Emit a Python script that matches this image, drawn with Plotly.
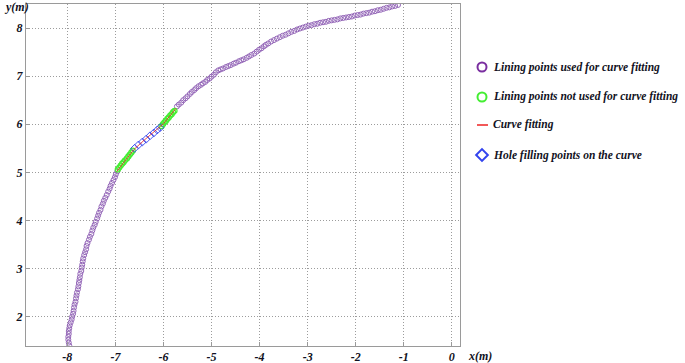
import plotly.graph_objects as go

# Lining points used for curve fitting (lower part)
used_low_x = [-7.96,-7.97,-7.98,-7.98,-7.97,-7.97,-7.96,-7.95,-7.93,-7.91,
              -7.90,-7.88,-7.87,-7.86,-7.85,-7.83,-7.82,-7.81,-7.80,-7.78,
              -7.77,-7.76,-7.75,-7.74,-7.73,-7.71,-7.70,-7.69,-7.68,-7.67,
              -7.65,-7.63,-7.61,-7.60,-7.58,-7.55,-7.53,-7.50,-7.48,-7.46,
              -7.43,-7.41,-7.38,-7.36,-7.34,-7.31,-7.29,-7.26,-7.24,-7.21,
              -7.18,-7.15,-7.12,-7.10,-7.07,-7.04,-7.01,-6.99,-6.96]
used_low_y = [1.40,1.46,1.52,1.58,1.64,1.70,1.76,1.82,1.88,1.94,
              2.00,2.06,2.12,2.19,2.25,2.31,2.38,2.44,2.50,2.57,
              2.63,2.70,2.76,2.82,2.89,2.95,3.02,3.08,3.15,3.21,
              3.28,3.34,3.40,3.47,3.53,3.60,3.66,3.72,3.79,3.85,
              3.91,3.97,4.04,4.10,4.16,4.22,4.29,4.35,4.41,4.47,
              4.53,4.60,4.66,4.72,4.78,4.84,4.90,4.96,5.02]

# Lining points used for curve fitting (upper part)
used_up_x = [-5.72,-5.68,-5.63,-5.59,-5.54,-5.50,-5.45,-5.41,-5.36,-5.32,-5.27,
             -5.22,-5.18,-5.13,-5.09,-5.04,-5.00,-4.95,-4.91,
             -4.86,-4.81,-4.76,-4.70,-4.65,-4.60,-4.54,-4.49,-4.43,-4.38,-4.33,-4.27,-4.22,-4.17,-4.11,-4.06,
             -4.01,-3.96,-3.91,-3.87,-3.82,
             -3.76,-3.70,-3.64,-3.58,-3.52,-3.46,-3.40,-3.34,-3.28,-3.22,-3.16,-3.10,-3.04,
             -2.98,-2.92,-2.86,-2.80,-2.74,-2.68,-2.62,-2.56,-2.50,-2.44,-2.38,-2.32,-2.26,-2.20,-2.14,-2.08,-2.02,
             -1.96,-1.90,-1.84,-1.78,-1.72,-1.66,-1.60,-1.54,-1.48,-1.42,-1.36,-1.30,-1.24,-1.18,-1.12]
used_up_y = [6.37,6.41,6.45,6.50,6.54,6.58,6.63,6.67,6.71,6.75,6.79,
             6.82,6.85,6.88,6.92,6.95,6.99,7.03,7.08,
             7.12,7.14,7.16,7.19,7.21,7.23,7.26,7.28,7.31,7.33,7.35,7.38,7.41,7.44,7.47,7.51,
             7.55,7.58,7.62,7.65,7.68,
             7.72,7.75,7.78,7.81,7.84,7.86,7.89,7.92,7.94,7.97,7.99,8.01,8.03,
             8.05,8.06,8.08,8.09,8.11,8.12,8.13,8.15,8.16,8.17,8.18,8.20,8.21,8.22,8.23,8.24,8.26,
             8.27,8.28,8.30,8.31,8.32,8.34,8.35,8.37,8.38,8.40,8.42,8.43,8.45,8.46,8.48]

# Lining points not used for curve fitting
notused_x = [-6.95,-6.92,-6.89,-6.86,-6.83,-6.80,-6.76,-6.73,-6.70,-6.67,-6.64,
             -6.04,-6.01,-5.98,-5.95,-5.92,-5.89,-5.86,-5.83,-5.80,-5.77]
notused_y = [5.06,5.10,5.14,5.18,5.21,5.25,5.29,5.33,5.37,5.41,5.45,
             5.96,6.00,6.04,6.07,6.11,6.14,6.18,6.21,6.25,6.28]

# Hole filling points on the curve
hole_x = [-6.60,-6.52,-6.44,-6.36,-6.28,-6.20,-6.13,-6.07]
hole_y = [5.50,5.57,5.63,5.69,5.76,5.82,5.88,5.93]

# Curve fitting
fit_x = [-6.97,-6.80,-6.62,-6.40,-6.20,-6.00,-5.74]
fit_y = [5.02,5.24,5.47,5.67,5.85,6.01,6.33]

# Tick values / labels
x_tickvals = [-8, -7, -6, -5, -4, -3, -2, -1, 0]
x_ticktext = ["-8", "-7", "-6", "-5", "-4", "-3", "-2", "-1", "0"]
y_tickvals = [2, 3, 4, 5, 6, 7, 8]
y_ticktext = ["2", "3", "4", "5", "6", "7", "8"]

# Legend labels
legend_labels = ["Lining points used for curve fitting",
                 "Lining points not used for curve fitting",
                 "Curve fitting",
                 "Hole filling points on the curve"]

PURPLE = "#9466b8"
PURPLE_LEG = "#7a2fa0"
GREEN = "#44ee33"
BLUE = "#3344ee"
RED = "#ee2222"
FONT = "Liberation Serif"
TXT = "#111122"

W, H = 685, 363
ML, MR, MT, MB = 26, 2, 4, 17
PW = W - ML - MR
PH = H - MT - MB
PLOT_RIGHT_PX = 460
dom_main = (PLOT_RIGHT_PX - ML) / PW


def px_to_paper_x(px):
    return (px - ML) / PW


def px_to_paper_y(py):
    return (H - MB - py) / PH


fig = go.Figure()
fig.add_trace(go.Scatter(x=used_low_x + [None] + used_up_x, y=used_low_y + [None] + used_up_y,
                         mode="markers", showlegend=False,
                         marker=dict(symbol="circle-open", size=5, color=PURPLE, line=dict(width=1, color=PURPLE))))
fig.add_trace(go.Scatter(x=notused_x, y=notused_y, mode="markers", showlegend=False,
                         marker=dict(symbol="circle-open", size=5, color=GREEN, line=dict(width=1.3, color=GREEN))))
fig.add_trace(go.Scatter(x=hole_x, y=hole_y, mode="markers", showlegend=False,
                         marker=dict(symbol="diamond-open", size=6, color=BLUE, line=dict(width=0.9, color=BLUE))))
fig.add_trace(go.Scatter(x=fit_x, y=fit_y, mode="lines", showlegend=False,
                         line=dict(color=RED, width=0.8)))

# manual legend on a secondary axis (range 0..1 both ways)
leg_x0 = 470
leg_dom = (px_to_paper_x(leg_x0), 1.0)
leg_w = W - MR - leg_x0
mx = (482 - leg_x0) / leg_w
row_py = [67, 97, 125, 155]
row_y = [px_to_paper_y(p) for p in row_py]

fig.add_trace(go.Scatter(x=[mx], y=[row_y[0]], xaxis="x2", yaxis="y2", mode="markers", showlegend=False,
                         marker=dict(symbol="circle-open", size=9, color=PURPLE_LEG, line=dict(width=2, color=PURPLE_LEG))))
fig.add_trace(go.Scatter(x=[mx], y=[row_y[1]], xaxis="x2", yaxis="y2", mode="markers", showlegend=False,
                         marker=dict(symbol="circle-open", size=9, color=GREEN, line=dict(width=2, color=GREEN))))
fig.add_trace(go.Scatter(x=[(477 - leg_x0) / leg_w, (488 - leg_x0) / leg_w], y=[row_y[2], row_y[2]],
                         xaxis="x2", yaxis="y2", mode="lines", showlegend=False,
                         line=dict(color=RED, width=1.5)))
fig.add_trace(go.Scatter(x=[mx], y=[row_y[3]], xaxis="x2", yaxis="y2", mode="markers", showlegend=False,
                         marker=dict(symbol="diamond-open", size=9, color=BLUE, line=dict(width=2, color=BLUE))))

axis_common = dict(
    showgrid=True, gridcolor="#9c9c9c", griddash="1px,2px", gridwidth=1,
    showline=True, linecolor="#9a9a9a", linewidth=1, mirror=True,
    ticks="inside", ticklen=4, tickcolor="#9a9a9a", zeroline=False, automargin=False,
    tickfont=dict(family=FONT, size=12, color=TXT, weight="bold", style="italic"),
)
fig.update_layout(
    xaxis=dict(range=[-8.86, 0.17], tickmode="array", tickvals=x_tickvals, ticktext=x_ticktext,
               domain=[0, dom_main], **axis_common),
    yaxis=dict(range=[1.39, 8.5], tickmode="array", tickvals=y_tickvals, ticktext=y_ticktext,
               **axis_common),
    xaxis2=dict(domain=list(leg_dom), range=[0, 1], visible=False, fixedrange=True),
    yaxis2=dict(domain=[0, 1], range=[0, 1], visible=False, fixedrange=True, anchor="x2"),
)

label_font = dict(family=FONT, size=12, color=TXT, weight="bold", style="italic")
legend_font = dict(family=FONT, size=11.5, color=TXT, weight="bold", style="italic")
annotations = [
    dict(text="y(m)", xref="paper", yref="paper", x=px_to_paper_x(2), y=px_to_paper_y(7),
         xanchor="left", yanchor="middle", showarrow=False, font=label_font),
    dict(text="x(m)", xref="paper", yref="paper", x=px_to_paper_x(466), y=px_to_paper_y(356),
         xanchor="left", yanchor="middle", showarrow=False, font=label_font),
]
for lbl, yy in zip(legend_labels, row_y):
    annotations.append(dict(text=lbl, xref="paper", yref="paper", x=px_to_paper_x(491), y=yy,
                            xanchor="left", yanchor="middle", showarrow=False, font=legend_font))

fig.update_layout(
    width=W, height=H,
    margin=dict(l=ML, r=MR, t=MT, b=MB),
    plot_bgcolor="white", paper_bgcolor="white",
    showlegend=False,
    annotations=annotations,
)

fig.write_html("out.html", config={"displayModeBar": False},
               post_script="document.body.style.margin='0';document.body.style.overflow='hidden';")
